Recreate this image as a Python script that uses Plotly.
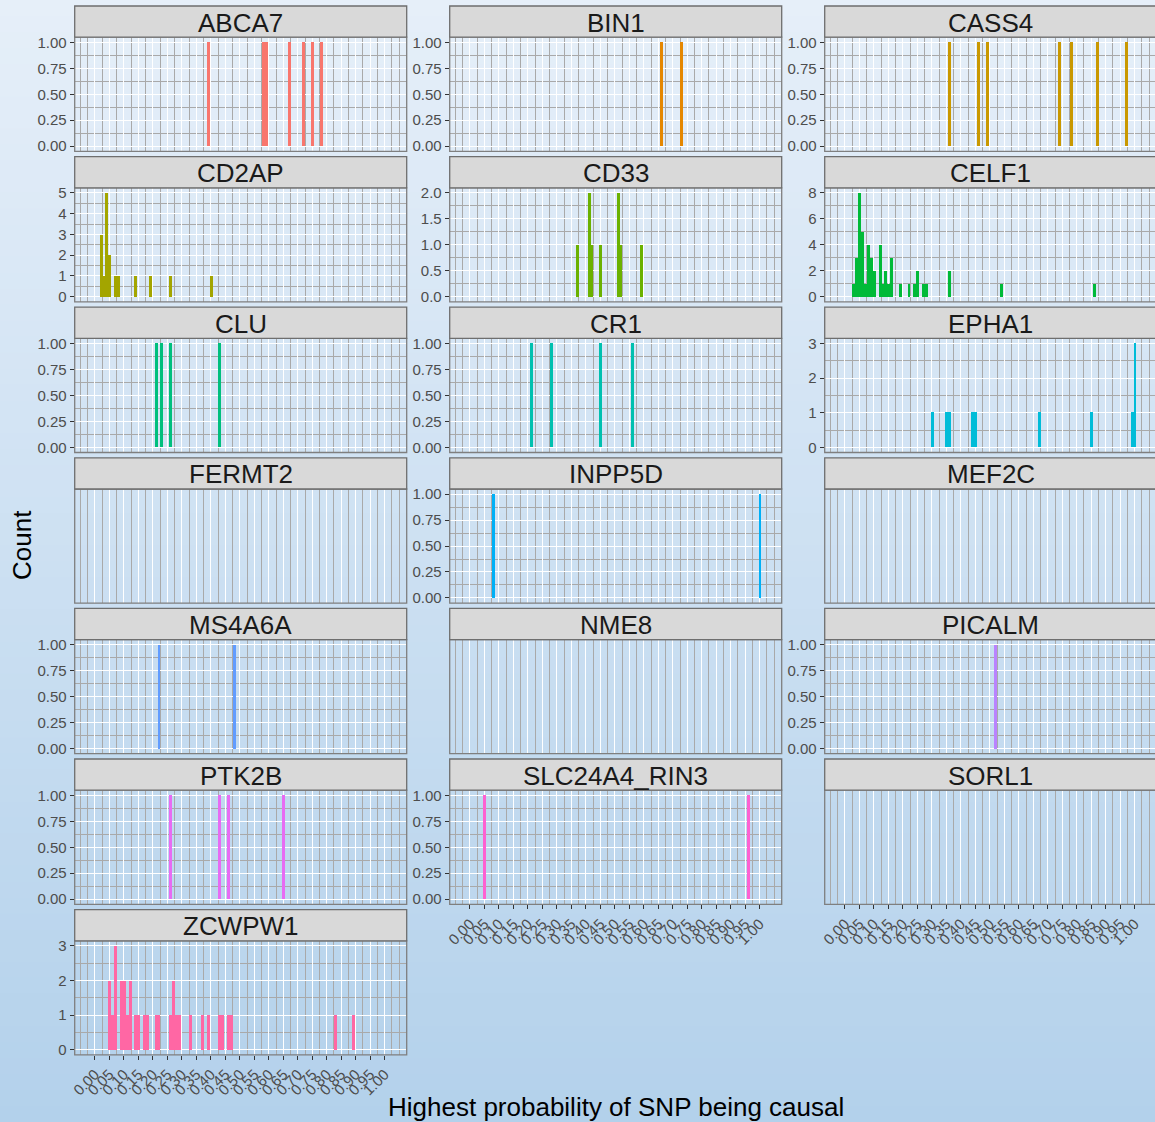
import math
import plotly.graph_objects as go

# ---------------- data ----------------
genes = ["ABCA7", "BIN1", "CASS4", "CD2AP", "CD33", "CELF1", "CLU", "CR1", "EPHA1",
         "FERMT2", "INPP5D", "MEF2C", "MS4A6A", "NME8", "PICALM", "PTK2B",
         "SLC24A4_RIN3", "SORL1", "ZCWPW1"]

abca7_x = [0.39, 0.58, 0.59, 0.67, 0.72, 0.75, 0.78]
abca7_n = [1, 1, 1, 1, 1, 1, 1]
bin1_x = [0.66, 0.73]
bin1_n = [1, 1]
cass4_x = [0.36, 0.46, 0.49, 0.74, 0.78, 0.87, 0.97]
cass4_n = [1, 1, 1, 1, 1, 1, 1]
cd2ap_x = [0.02, 0.03, 0.04, 0.05, 0.07, 0.08, 0.14, 0.19, 0.26, 0.40]
cd2ap_n = [3, 1, 5, 2, 1, 1, 1, 1, 1, 1]
cd33_x = [0.37, 0.41, 0.42, 0.45, 0.51, 0.52, 0.59]
cd33_n = [1, 2, 1, 1, 2, 1, 1]
celf1_x = [0.03, 0.04, 0.05, 0.06, 0.07, 0.08, 0.09, 0.10, 0.12, 0.13, 0.14, 0.15,
           0.16, 0.19, 0.22, 0.24, 0.25, 0.27, 0.28, 0.36, 0.54, 0.86]
celf1_n = [1, 3, 8, 5, 1, 4, 3, 2, 4, 1, 2, 1, 3, 1, 1, 1, 2, 1, 1, 2, 1, 1]
clu_x = [0.21, 0.23, 0.26, 0.43]
clu_n = [1, 1, 1, 1]
cr1_x = [0.21, 0.28, 0.45, 0.56]
cr1_n = [1, 1, 1, 1]
epha1_x = [0.30, 0.35, 0.36, 0.44, 0.45, 0.67, 0.85, 0.99, 1.00]
epha1_n = [1, 1, 1, 1, 1, 1, 1, 1, 3]
fermt2_x, fermt2_n = [], []
inpp5d_x = [0.08, 1.00]
inpp5d_n = [1, 1]
mef2c_x, mef2c_n = [], []
ms4a6a_x = [0.22, 0.48]
ms4a6a_n = [1, 1]
nme8_x, nme8_n = [], []
picalm_x = [0.52]
picalm_n = [1]
ptk2b_x = [0.26, 0.43, 0.46, 0.65]
ptk2b_n = [1, 1, 1, 1]
slc_x = [0.05, 0.96]
slc_n = [1, 1]
sorl1_x, sorl1_n = [], []
zcwpw1_x = [0.05, 0.06, 0.07, 0.09, 0.10, 0.11, 0.12, 0.14, 0.15, 0.17, 0.18, 0.21,
            0.22, 0.26, 0.27, 0.28, 0.29, 0.33, 0.37, 0.39, 0.43, 0.44, 0.46, 0.47,
            0.83, 0.89]
zcwpw1_n = [2, 1, 3, 2, 2, 1, 2, 1, 1, 1, 1, 1, 1, 1, 2, 1, 1, 1, 1, 1, 1, 1, 1, 1,
            1, 1]

x_ticks = [i * 0.05 for i in range(21)]
x_tick_labels = ["%.2f" % v for v in x_ticks]

series = {
    "ABCA7": (abca7_x, abca7_n), "BIN1": (bin1_x, bin1_n), "CASS4": (cass4_x, cass4_n),
    "CD2AP": (cd2ap_x, cd2ap_n), "CD33": (cd33_x, cd33_n), "CELF1": (celf1_x, celf1_n),
    "CLU": (clu_x, clu_n), "CR1": (cr1_x, cr1_n), "EPHA1": (epha1_x, epha1_n),
    "FERMT2": (fermt2_x, fermt2_n), "INPP5D": (inpp5d_x, inpp5d_n),
    "MEF2C": (mef2c_x, mef2c_n), "MS4A6A": (ms4a6a_x, ms4a6a_n),
    "NME8": (nme8_x, nme8_n), "PICALM": (picalm_x, picalm_n),
    "PTK2B": (ptk2b_x, ptk2b_n), "SLC24A4_RIN3": (slc_x, slc_n),
    "SORL1": (sorl1_x, sorl1_n), "ZCWPW1": (zcwpw1_x, zcwpw1_n),
}

# ---------------- style helpers ----------------
W, H = 1155, 1122


def hcl_hex(h, c=100.0, l=65.0):
    hr = math.radians(h)
    u, v = c * math.cos(hr), c * math.sin(hr)
    Xn, Yn, Zn = 95.047, 100.0, 108.883
    den = Xn + 15 * Yn + 3 * Zn
    un, vn = 4 * Xn / den, 9 * Yn / den
    Y = Yn * ((l + 16) / 116) ** 3
    up = u / (13 * l) + un
    vp = v / (13 * l) + vn
    X = Y * 9 * up / (4 * vp)
    Z = Y * (12 - 3 * up - 20 * vp) / (4 * vp)
    X, Y, Z = X / 100, Y / 100, Z / 100
    r = 3.240479 * X - 1.537150 * Y - 0.498535 * Z
    g = -0.969256 * X + 1.875992 * Y + 0.041556 * Z
    b = 0.055648 * X - 0.204043 * Y + 1.057311 * Z

    def gam(t):
        t = max(0.0, min(1.0, t))
        return 1.055 * t ** (1 / 2.4) - 0.055 if t > 0.0031308 else 12.92 * t
    return "#%02x%02x%02x" % tuple(int(round(gam(t) * 255)) for t in (r, g, b))


present = [g for g in genes if series[g][0]]
n_p = len(present)
color_of = {g: hcl_hex(15 + 360.0 * i / n_p) for i, g in enumerate(present)}

FONT = "Liberation Sans, Arial, sans-serif"
PX_PER_UNIT = 332 / 1.146
XR0 = -0.070
col_left = [74.7, 449.7, 824.7]
PANEL_W = 332.0


def px(x):
    return x / W


def py(y):
    return 1 - y / H


fig = go.Figure()
layout = dict(
    width=W, height=H, margin=dict(l=0, r=0, t=0, b=0, pad=0, autoexpand=False),
    paper_bgcolor="#dde9f5", plot_bgcolor="rgba(0,0,0,0)",
    showlegend=False, bargap=0, barmode="overlay",
)
shapes = []
annotations = []

# background gradient
top_rgb = (0xe6, 0xef, 0xf9)
bot_rgb = (0xb3, 0xd1, 0xeb)
NB = 70
for k in range(NB):
    t = (k + 0.5) / NB
    c = tuple(int(round(a + (b - a) * t)) for a, b in zip(top_rgb, bot_rgb))
    shapes.append(dict(type="rect", xref="paper", yref="paper", layer="below",
                       x0=-0.02, x1=1.02, y0=1 - (k + 1) / NB - 0.001, y1=1 - k / NB,
                       fillcolor="#%02x%02x%02x" % c, line=dict(width=0)))

bottom_panels = {"ZCWPW1", "SLC24A4_RIN3", "SORL1"}
step_by_max = {1: 0.25, 2: 0.5, 3: 1, 4: 1, 5: 1, 6: 2, 7: 2, 8: 2}
TICKFONT = dict(family=FONT, size=15, color="#4d4d4d")

for i, gname in enumerate(genes):
    r, cidx = divmod(i, 3)
    k = i + 1
    xs, ns = series[gname]
    left = col_left[cidx]
    right = min(left + PANEL_W, W)
    ptop = 37.2 + 150.6 * r
    pbot = 151.3 + 150.6 * r
    stop = 6.0 + 150.6 * r
    xr1 = XR0 + (right - left) / PX_PER_UNIT
    xa = "xaxis" if k == 1 else "xaxis%d" % k
    ya = "yaxis" if k == 1 else "yaxis%d" % k
    xref = "x" if k == 1 else "x%d" % k
    yref = "y" if k == 1 else "y%d" % k

    fig.add_trace(go.Bar(x=xs, y=ns, width=0.0102,
                         marker=dict(color=color_of.get(gname, "#888888"), line=dict(width=0)),
                         xaxis=xref, yaxis=yref, hoverinfo="x+y"))
    is_bottom = gname in bottom_panels
    layout[xa] = dict(
        domain=[px(left), px(right)], range=[XR0, xr1], anchor=yref,
        tickmode="array", tickvals=x_ticks, ticktext=x_tick_labels,
        showticklabels=is_bottom, ticks="outside" if is_bottom else "",
        ticklen=4, tickcolor="#333333", tickwidth=1, tickangle=-45,
        tickfont=TICKFONT, automargin=False,
        showgrid=True, gridcolor="#ffffff", gridwidth=1,
        minor=dict(tickmode="linear", tick0=0, dtick=0.025, showgrid=True,
                   gridcolor="#a9a9a9", gridwidth=0.6),
        zeroline=False, showline=False, fixedrange=True,
    )
    if xs:
        ymax = max(ns)
        st = step_by_max[ymax]
        tv = []
        v = 0.0
        while v <= ymax + 1e-9:
            tv.append(v)
            v += st
        dec = 2 if st == 0.25 else (1 if st == 0.5 else 0)
        tt = [("%." + str(dec) + "f") % t for t in tv]
        layout[ya] = dict(
            domain=[py(pbot), py(ptop)], range=[-0.05 * ymax, 1.05 * ymax], anchor=xref,
            tickmode="array", tickvals=tv, ticktext=tt,
            ticks="outside", ticklen=4, tickcolor="#333333", tickwidth=1,
            tickfont=TICKFONT, automargin=False,
            showgrid=True, gridcolor="#ffffff", gridwidth=1,
            minor=dict(tickmode="linear", tick0=0, dtick=st / 2, showgrid=True,
                       gridcolor="#a9a9a9", gridwidth=0.6),
            zeroline=False, showline=False, fixedrange=True,
        )
    else:
        layout[ya] = dict(
            domain=[py(pbot), py(ptop)], range=[-0.05, 1.05], anchor=xref,
            showticklabels=False, ticks="", showgrid=False, zeroline=False,
            showline=False, fixedrange=True, automargin=False,
        )
    # panel border
    shapes.append(dict(type="rect", xref="paper", yref="paper",
                       x0=px(left), x1=px(left + PANEL_W), y0=py(pbot), y1=py(ptop),
                       line=dict(color="#7f7f7f", width=1.3), fillcolor="rgba(0,0,0,0)"))
    # strip
    shapes.append(dict(type="rect", xref="paper", yref="paper",
                       x0=px(left), x1=px(left + PANEL_W), y0=py(ptop), y1=py(stop),
                       line=dict(color="#6e6e6e", width=1.3), fillcolor="#d9d9d9"))
    annotations.append(dict(xref="paper", yref="paper", x=px(left + PANEL_W / 2),
                            y=py((stop + ptop) / 2 + 1), text=gname, showarrow=False,
                            xanchor="center", yanchor="middle",
                            font=dict(family=FONT, size=26, color="#1a1a1a")))

annotations.append(dict(xref="paper", yref="paper", x=px(22), y=py(545), text="Count",
                        textangle=-90, showarrow=False, xanchor="center", yanchor="middle",
                        font=dict(family=FONT, size=26, color="#000000")))
annotations.append(dict(xref="paper", yref="paper", x=px(616), y=py(1107),
                        text="Highest probability of SNP being causal", showarrow=False,
                        xanchor="center", yanchor="middle",
                        font=dict(family=FONT, size=26, color="#000000")))

layout["shapes"] = shapes
layout["annotations"] = annotations
fig.update_layout(**layout)
fig.write_html("out.html", config={"displayModeBar": False},
               post_script="document.body.style.margin='0';document.body.style.overflow='hidden';")
